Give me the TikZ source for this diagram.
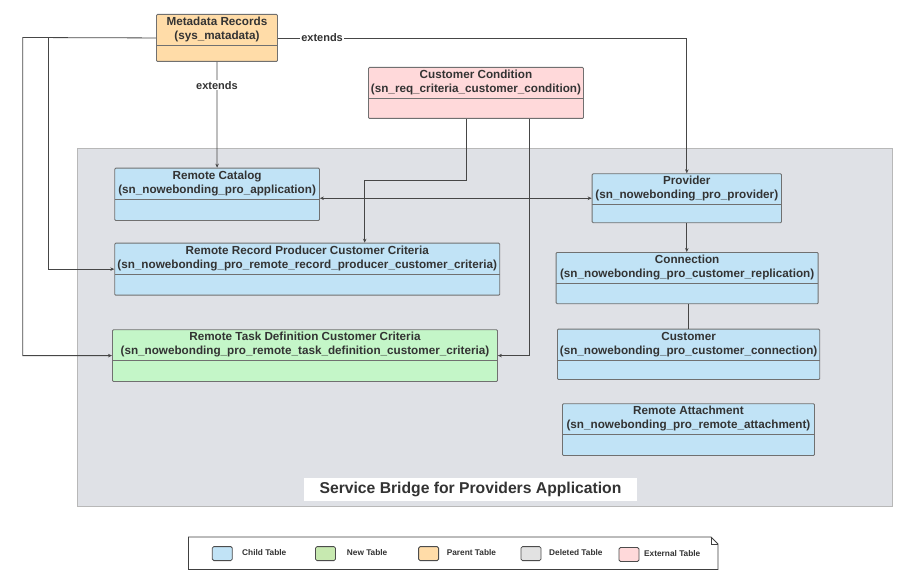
\documentclass[tikz,border=0pt]{standalone}
\usepackage{fontspec}
\setmainfont{Liberation Sans}
\usetikzlibrary{arrows.meta}

\definecolor{childblue}{RGB}{193,227,246}
\definecolor{newgreen}{RGB}{196,246,200}
\definecolor{parentorange}{RGB}{255,220,168}
\definecolor{externalpink}{RGB}{255,217,218}
\definecolor{deletedgray}{RGB}{226,226,226}
\definecolor{keygreen}{RGB}{199,233,176}
\definecolor{bridgegray}{RGB}{223,225,230}
\definecolor{boxline}{RGB}{112,112,112}
\definecolor{wire}{RGB}{70,70,70}

\begin{document}
\begin{tikzpicture}[x=1pt,y=-1pt,
  tbl/.style={draw=boxline, line width=0.9pt, rounded corners=1pt, anchor=north west, inner sep=0pt,
    path picture={\draw[boxline, line width=0.9pt] ([yshift=-31pt]path picture bounding box.north west) -- ([yshift=-31pt]path picture bounding box.north east);}},
  ttl/.style={anchor=north, align=center, inner sep=3pt, text=black!80, font=\bfseries\fontsize{11.7}{14}\selectfont},
  conn/.style={draw=wire, line width=0.8pt, -{Stealth[length=4pt,width=3.5pt]}},
  lbl/.style={fill=white, inner sep=1pt, text=black!80, font=\bfseries\fontsize{11}{13}\selectfont},
  swatch/.style={draw=black!70, line width=0.8pt, rounded corners=1.5pt, minimum width=20pt, minimum height=14pt, inner sep=0pt},
  key/.style={anchor=west, inner sep=0pt, text=black!80, font=\bfseries\fontsize{8.3}{10}\selectfont}]
\useasboundingbox (0,0) rectangle (915,580);

\node [draw=black!28, fill=bridgegray, line width=0.8pt, anchor=north west, inner sep=0pt, minimum width=815pt, minimum height=358pt] (bridge) at (77,148.3) {};
\node [fill=white, minimum width=333pt, minimum height=23pt, inner sep=0pt, text=black!80, font=\bfseries\fontsize{15.7}{18}\selectfont] (bridgettl) at (470.5,489.5) {Service Bridge for Providers Application};

\node [tbl, fill=parentorange, minimum width=121pt, minimum height=47pt] (meta) at (156,14) {};
\node [ttl] (metattl) at (meta.north) {Metadata Records\\(sys\_matadata)};
\node [tbl, fill=externalpink, minimum width=215pt, minimum height=51pt] (custcond) at (368,67) {};
\node [ttl] (custcondttl) at (custcond.north) {Customer Condition\\(sn\_req\_criteria\_customer\_condition)};
\node [tbl, fill=childblue, minimum width=204.7pt, minimum height=52.3pt] (catalog) at (114.3,167.7) {};
\node [ttl] (catalogttl) at (catalog.north) {Remote Catalog\\(sn\_nowebonding\_pro\_application)};
\node [tbl, fill=childblue, minimum width=189.3pt, minimum height=49pt] (provider) at (591.7,173.3) {};
\node [ttl] (providerttl) at (provider.north) {Provider\\(sn\_nowebonding\_pro\_provider)};
\node [tbl, fill=childblue, minimum width=385pt, minimum height=52pt] (rrpcc) at (114.3,242.7) {};
\node [ttl] (rrpccttl) at (rrpcc.north) {Remote Record Producer Customer Criteria\\(sn\_nowebonding\_pro\_remote\_record\_producer\_customer\_criteria)};
\node [tbl, fill=childblue, minimum width=262pt, minimum height=51.3pt] (connection) at (555.7,252) {};
\node [ttl] (connectionttl) at (connection.north) {Connection\\(sn\_nowebonding\_pro\_customer\_replication)};
\node [tbl, fill=newgreen, minimum width=385pt, minimum height=51.7pt] (rtdcc) at (112,329.3) {};
\node [ttl] (rtdccttl) at (rtdcc.north) {Remote Task Definition Customer Criteria\\(sn\_nowebonding\_pro\_remote\_task\_definition\_customer\_criteria)};
\node [tbl, fill=childblue, minimum width=262.3pt, minimum height=50.3pt] (customer) at (557,328.7) {};
\node [ttl] (customerttl) at (customer.north) {Customer\\(sn\_nowebonding\_pro\_customer\_connection)};
\node [tbl, fill=childblue, minimum width=252pt, minimum height=51.7pt] (attach) at (562,403.3) {};
\node [ttl] (attachttl) at (attach.north) {Remote Attachment\\(sn\_nowebonding\_pro\_remote\_attachment)};

\coordinate (outerleft) at (22.7,37.5);
\coordinate (innerleft) at (48.3,37.5);
\coordinate (ccbend) at (364.7,180);
\draw [conn] (meta.west) -- (outerleft) |- (rtdcc.west);
\draw [conn] (innerleft) |- (rrpcc.west);
\draw [conn] (meta.south) -- node [lbl, pos=0.22] (extdown) {extends} (catalog.north);
\draw [conn] (meta.east) -| node [lbl, pos=0.054] (extright) {extends} (provider.north);
\draw [conn, {Stealth[length=4pt,width=3.5pt]}-{Stealth[length=4pt,width=3.5pt]}] (catalog.east |- provider.west) -- (provider.west);
\draw [conn] ([xshift=98pt]custcond.south west) |- (ccbend) -- (ccbend |- rrpcc.north);
\draw [conn] ([xshift=161.3pt]custcond.south west) |- (rtdcc.east);
\draw [conn] (provider.south) -- (provider.south |- connection.north);
\draw [conn, -] (customer.north |- connection.south) -- (customer.north);

\draw [black!75, line width=0.9pt, fill=white] (188.5,537) -- (711,537) -- (718,544) -- (718,569.5) -- (188.5,569.5) -- cycle;
\draw [black!75, line width=0.9pt] (711,537) |- (718,544);
\node [swatch, fill=childblue] (swchild) at (222.3,553.6) {};
\node [key] (keychild) at (242,552.5) {Child Table};
\node [swatch, fill=keygreen] (swnew) at (325.5,553.6) {};
\node [key] (keynew) at (346.7,552.5) {New Table};
\node [swatch, fill=parentorange] (swparent) at (428.6,553.6) {};
\node [key] (keyparent) at (446.6,552.5) {Parent Table};
\node [swatch, fill=deletedgray] (swdeleted) at (531,553.6) {};
\node [key] (keydeleted) at (549,552.5) {Deleted Table};
\node [swatch, fill=externalpink] (swexternal) at (629,554.5) {};
\node [key] (keyexternal) at (644,554) {External Table};
\end{tikzpicture}
\end{document}
